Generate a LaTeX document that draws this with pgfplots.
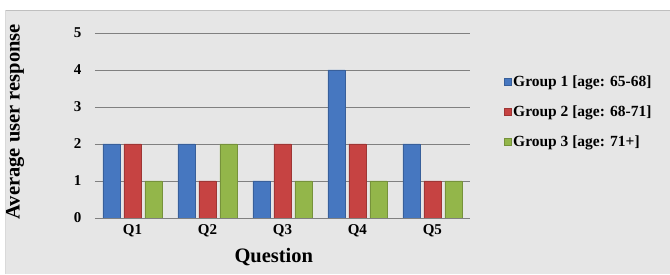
\documentclass[border=0pt]{standalone}
\usepackage{pgfplots}
\pgfplotsset{compat=1.18}
\usepackage{fontspec}
\setmainfont{Liberation Serif}
\definecolor{bg}{HTML}{E6E6E6}
\definecolor{gblue}{HTML}{4677C0}
\definecolor{gred}{HTML}{C64342}
\definecolor{ggreen}{HTML}{93B64A}
\definecolor{gridc}{HTML}{808080}
\begin{document}
\begin{tikzpicture}[x=1pt,y=1pt]
\fill[white] (0,0) rectangle (670,274);
\fill[bg] (5,0) rectangle (670,264);
\draw[gray!50] (5,264) -- (670,264);
\draw[gray!30] (5,0) -- (5,264);
\begin{axis}[
  at={(95pt,56pt)}, anchor=south west,
  scale only axis, width=375pt, height=185pt,
  xmin=-0.5, xmax=4.5, ymin=0, ymax=5,
  ybar=4pt, bar width=17pt,
  xtick={0,1,2,3,4}, xticklabels={Q1,Q2,Q3,Q4,Q5},
  ytick={0,1,2,3,4,5},
  major tick length=0pt,
  axis line style={draw=none},
  ymajorgrids, grid style={gridc, line width=0.8pt},
  /pgf/number format/assume math mode=true,
  tick label style={font=\fontsize{15}{17}\selectfont\bfseries},
  yticklabel style={xshift=-10pt},
  xticklabel style={yshift=-3pt},
  xlabel={Question}, ylabel={Average user response},
  label style={font=\fontsize{20.5}{22}\selectfont\bfseries},
  xlabel style={at={(axis description cs:0.477,-0.211)}, anchor=center},
  ylabel style={at={(axis description cs:-0.213,0.52)}, anchor=center},
  legend style={at={(axis description cs:1.09,0.79)}, anchor=north west,
    draw=none, fill=none, font=\fontsize{15.5}{17}\selectfont\bfseries,
    row sep=13.5pt, inner xsep=0pt, nodes={inner xsep=2pt}},
  legend cell align=left,
  legend image code/.code={\fill[#1] (0pt,-3.5pt) rectangle (7pt,3.5pt);},
]
\addplot[draw=gblue!80!black, line width=0.4pt, fill=gblue] coordinates {(0,2) (1,2) (2,1) (3,4) (4,2)};
\addplot[draw=gred!80!black, line width=0.4pt, fill=gred] coordinates {(0,2) (1,1) (2,2) (3,2) (4,1)};
\addplot[draw=ggreen!80!black, line width=0.4pt, fill=ggreen] coordinates {(0,1) (1,2) (2,1) (3,1) (4,1)};
\legend{Group 1 [age: 65-68], Group 2 [age: 68-71], Group 3 [age: 71+]}
\end{axis}
\end{tikzpicture}
\end{document}
